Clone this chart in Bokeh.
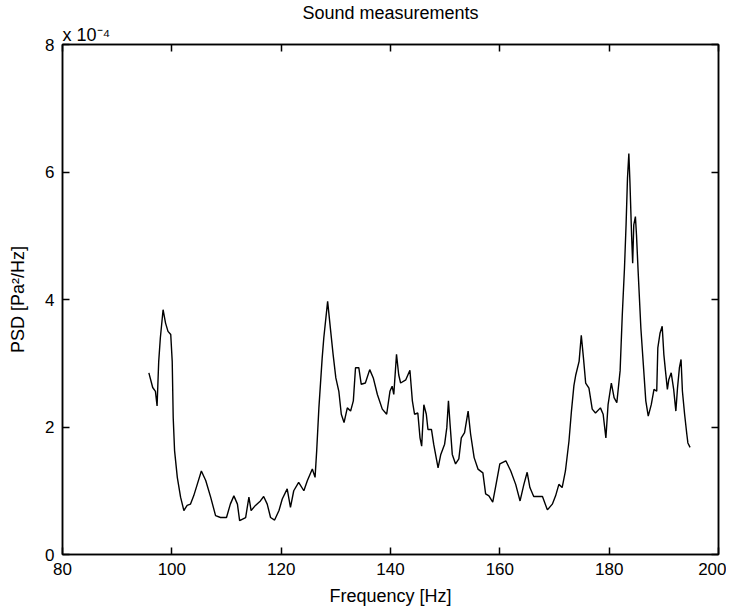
from bokeh.plotting import figure
from bokeh.models import LinearAxis, Range1d, FixedTicker, Title
from bokeh.embed import file_html
from bokeh.resources import INLINE

# Frequency [Hz]
freq = [95.8, 96.5, 97.0, 97.3, 97.6, 97.9, 98.4, 98.85, 99.3, 99.8,
        100.07, 100.25, 100.5, 101.0, 101.6, 102.2, 102.8, 103.4, 104.0, 104.65,
        105.4, 106.2, 107.1, 108.0, 108.9, 110.0, 110.7, 111.35, 112.0, 112.4,
        113.5, 114.1, 114.5, 115.3, 116.2, 116.8, 117.45, 118.06, 118.8, 119.6,
        120.2, 121.1, 121.7, 122.3, 123.2, 124.15, 124.8, 125.7, 126.2, 126.5,
        126.9, 127.5, 127.8, 128.5, 129.0, 129.5, 130.0, 130.55, 131.0, 131.5,
        132.1, 132.7, 133.2, 133.6, 134.2, 134.65, 135.4, 136.2, 136.85, 137.6,
        138.5, 139.3, 139.9, 140.3, 140.6, 141.1, 141.5, 141.85, 142.8, 143.55,
        144.0, 144.4, 145.0, 145.4, 145.7, 146.1, 146.55, 146.85, 147.5, 147.9,
        148.7, 149.2, 149.9, 150.3, 150.6, 150.9, 151.3, 151.9, 152.5, 152.95,
        153.55, 154.2, 154.65, 155.3, 156.0, 156.9, 157.4, 158.0, 158.7, 159.2,
        160.0, 161.1, 162.0, 162.9, 163.7, 164.4, 165.0, 165.5, 166.2, 167.8,
        168.7, 169.6, 170.2, 170.8, 171.4, 172.0, 172.65, 173.1, 173.55, 173.9,
        174.5, 174.9, 175.3, 175.7, 176.3, 176.9, 177.5, 178.4, 178.9, 179.4,
        179.8, 180.4, 180.9, 181.4, 182.0, 182.4, 182.8, 183.1, 183.35, 183.6,
        183.8, 184.1, 184.3, 184.5, 184.8, 185.0, 185.3, 185.8, 186.25, 186.7,
        187.15, 187.7, 188.2, 188.7, 188.9, 189.3, 189.7, 190.0, 190.3, 190.65,
        190.9, 191.35, 191.8, 192.2, 192.5, 192.85, 193.15, 193.4, 193.8, 194.2,
        194.4, 194.8]

# PSD in units of 1e-4 Pa^2/Hz
psd = [2.85, 2.62, 2.56, 2.33, 3.03, 3.40, 3.84, 3.63, 3.50, 3.45,
       3.03, 2.15, 1.63, 1.21, 0.90, 0.69, 0.77, 0.79, 0.92, 1.10,
       1.31, 1.16, 0.90, 0.61, 0.58, 0.58, 0.79, 0.92, 0.79, 0.53,
       0.58, 0.90, 0.69, 0.77, 0.84, 0.91, 0.79, 0.58, 0.54, 0.69,
       0.87, 1.03, 0.74, 1.00, 1.13, 1.00, 1.16, 1.34, 1.21, 1.63,
       2.30, 3.08, 3.40, 3.97, 3.55, 3.14, 2.77, 2.56, 2.20, 2.07,
       2.30, 2.25, 2.41, 2.93, 2.93, 2.67, 2.69, 2.90, 2.77, 2.51,
       2.28, 2.20, 2.56, 2.64, 2.51, 3.14, 2.82, 2.69, 2.74, 2.89,
       2.41, 2.20, 2.22, 1.83, 1.70, 2.35, 2.20, 1.96, 1.96, 1.73,
       1.36, 1.57, 1.73, 1.99, 2.41, 2.04, 1.57, 1.42, 1.50, 1.83,
       1.91, 2.25, 1.89, 1.52, 1.34, 1.28, 0.95, 0.92, 0.82, 1.05,
       1.42, 1.47, 1.31, 1.10, 0.84, 1.10, 1.29, 1.05, 0.91, 0.91,
       0.70, 0.79, 0.92, 1.10, 1.05, 1.31, 1.78, 2.25, 2.65, 2.82,
       3.03, 3.44, 3.08, 2.69, 2.61, 2.28, 2.22, 2.30, 2.20, 1.83,
       2.35, 2.69, 2.46, 2.38, 2.88, 3.76, 4.49, 5.19, 5.90, 6.29,
       5.84, 5.01, 4.57, 5.17, 5.30, 5.01, 4.44, 3.55, 2.98, 2.41,
       2.17, 2.35, 2.59, 2.56, 3.24, 3.47, 3.58, 3.14, 2.88, 2.59,
       2.74, 2.85, 2.59, 2.25, 2.61, 2.93, 3.06, 2.56, 2.20, 1.89,
       1.75, 1.68]

x_ticks = [80, 100, 120, 140, 160, 180, 200]
y_ticks = [0, 2, 4, 6, 8]

FONT = "Liberation Sans"
TICK_FS = "17px"
LAB_FS = "18px"

p = figure(width=726, height=609, output_backend="svg", toolbar_location=None,
           x_range=Range1d(80, 200), y_range=Range1d(0, 8),
           min_border_left=62, min_border_right=8, min_border_top=42,
           min_border_bottom=55,
           x_axis_label="Frequency [Hz]", y_axis_label="PSD [Pa²/Hz]")

p.line(freq, psd, line_color="black", line_width=1.4)

p.grid.visible = False
p.outline_line_color = "black"
p.outline_line_width = 1.5
p.background_fill_color = "white"
p.border_fill_color = "white"

for ax, ticks in ((p.xaxis[0], x_ticks), (p.yaxis[0], y_ticks)):
    ax.ticker = FixedTicker(ticks=ticks)
    ax.major_tick_in = 7
    ax.major_tick_out = 0
    ax.minor_tick_line_color = None
    ax.axis_line_width = 1.5
    ax.major_tick_line_width = 1.5
    ax.major_label_text_font = FONT
    ax.major_label_text_font_size = TICK_FS
    ax.major_label_text_color = "black"
    ax.axis_label_text_font = FONT
    ax.axis_label_text_font_size = LAB_FS
    ax.axis_label_text_font_style = "normal"
    ax.axis_label_text_color = "black"

p.xaxis[0].major_label_standoff = 8
p.xaxis[0].axis_label_standoff = 8
p.yaxis[0].major_label_standoff = 8
p.yaxis[0].axis_label_standoff = 14

# mirrored box axes (ticks only, no labels)
top = LinearAxis(ticker=FixedTicker(ticks=x_ticks), major_tick_in=7, major_tick_out=0,
                 minor_tick_line_color=None, major_label_text_font_size="1px",
                 major_label_text_color=None, major_label_standoff=0,
                 axis_line_width=1.5, major_tick_line_width=1.5)
right = LinearAxis(ticker=FixedTicker(ticks=y_ticks), major_tick_in=7, major_tick_out=0,
                   minor_tick_line_color=None, major_label_text_font_size="1px",
                   major_label_text_color=None, major_label_standoff=0,
                   axis_line_width=1.5, major_tick_line_width=1.5)
p.add_layout(top, "above")
p.add_layout(right, "right")

p.add_layout(Title(text="x 10⁻⁴", align="left", text_font=FONT,
                   text_font_size=LAB_FS, text_font_style="normal",
                   text_color="black", standoff=0), "above")
p.title.text = "Sound measurements"
p.title.align = "center"
p.title.text_font = FONT
p.title.text_font_size = LAB_FS
p.title.text_font_style = "normal"
p.title.text_color = "black"
p.title.standoff = 0

open("out.html", "w").write(file_html(p, INLINE))
